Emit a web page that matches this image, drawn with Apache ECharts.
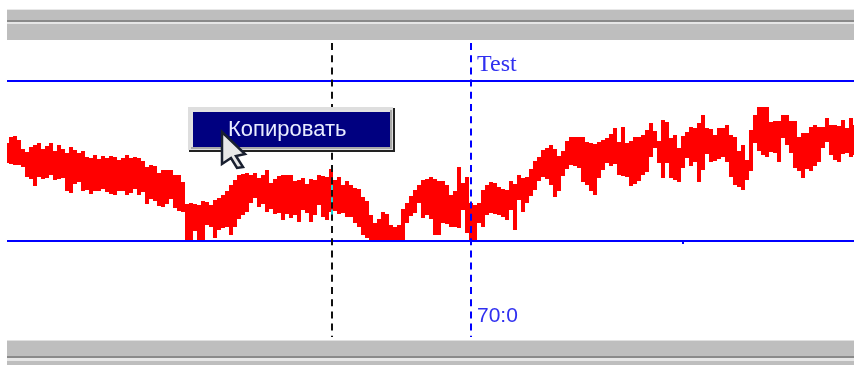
<!DOCTYPE html>
<html><head><meta charset="utf-8">
<style>html,body{margin:0;padding:0;background:#fff}#c{width:854px;height:365px}</style>
<script src="https://cdn.jsdelivr.net/npm/echarts@6/dist/echarts.min.js"></script>
</head><body><div id="c"></div>
<script>
// signal envelope, one sample per index, blue limit lines at 0 and 160
const upper = [
98,104,105,101,92,89,94,96,98,92,
95,98,90,96,92,88,94,91,88,90,
84,83,86,82,85,83,85,84,81,83,
86,83,84,83,80,74,76,75,68,71,
71,71,66,66,59,37,38,37,36,40,
39,36,41,43,46,50,56,61,66,67,
68,66,68,63,66,71,58,62,65,66,
66,66,60,61,63,57,62,61,66,65,
64,72,61,64,56,60,56,53,52,44,
40,26,18,22,29,27,16,14,16,32,
38,45,51,56,61,62,64,62,60,60,
56,46,50,74,58,64,38,36,38,51,
56,59,58,54,52,51,60,57,66,63,
64,72,80,84,91,93,96,92,85,90,
100,104,104,104,104,99,98,97,99,101,
103,107,113,99,114,98,100,104,104,106,
111,118,110,100,121,119,103,106,93,105,
109,114,113,118,126,113,112,106,113,113,
116,106,104,90,96,81,111,126,134,134,
134,119,120,120,126,126,120,120,104,108,
108,114,116,114,114,123,116,116,115,121,
113,123,116];
const lower = [
78,77,76,76,74,64,62,55,64,62,
63,66,61,62,63,50,48,57,59,50,
51,47,50,50,52,49,47,46,50,50,
46,48,52,46,49,37,42,40,35,34,
37,42,33,30,29,1,0,10,1,0,
16,14,3,11,13,14,6,14,22,26,
29,38,43,34,37,29,32,27,28,21,
27,23,26,19,31,28,19,26,36,24,
21,29,30,27,28,24,24,18,14,6,
3,0,0,0,0,0,0,0,0,0,
18,25,28,38,23,26,22,6,6,18,
17,14,14,13,31,8,1,1,18,14,
26,28,27,26,24,21,31,11,41,29,
38,45,51,60,64,62,56,44,50,65,
72,76,75,73,59,56,50,46,63,71,
78,75,77,66,65,64,55,57,60,66,
69,84,93,78,63,78,63,61,59,73,
83,75,79,59,71,87,79,80,82,84,
79,64,56,54,51,61,70,98,90,86,
84,89,88,79,103,96,88,73,70,63,
72,70,75,79,93,99,86,81,79,87,
88,84,86];
const sampleIndex = upper.map((_, i) => i);
const limitLines = [0, 160];
const cursorMarks = { black: 81.25, blue: 115.85 };
const cursorInverted = [24, 56];
const labels = { test: 'Test', time: '70:0', button: 'Копировать' };

const chart = echarts.init(document.getElementById('c'), null, { renderer: 'canvas' });
const rect = (x, y, w, h, fill, z) => ({ type: 'rect', shape: { x, y, width: w, height: h }, style: { fill }, z: z || 50, silent: true });
const vDash = [7, 5.2];
chart.setOption({
  animation: false,
  backgroundColor: '#fff',
  grid: { left: 7, width: 847, top: 40, height: 300 },
  xAxis: { type: 'value', min: 0, max: 211.75, show: false },
  yAxis: { type: 'value', min: -99, max: 201, show: false },
  series: [
    { type: 'custom', silent: true, z: 2, clip: true,
      encode: { x: 0, y: [1, 2] },
      data: sampleIndex.map(i => [i, lower[i], upper[i]]),
      renderItem(params, api) {
        const a = api.coord([api.value(0) - 0.5, api.value(2)]);
        const b = api.coord([api.value(0) + 0.5, api.value(1)]);
        return { type: 'rect', shape: { x: a[0], y: a[1], width: b[0] - a[0], height: b[1] - a[1] },
          style: { fill: '#ff0000' } };
      } },
    { type: 'line', data: [], z: 3, silent: true, symbol: 'none',
      markLine: { silent: true, symbol: 'none', animation: false, label: { show: false },
        data: [
          ...limitLines.map(v => ({ yAxis: v, lineStyle: { color: '#0000ff', width: 2, type: 'solid' } })),
          [{ coord: [cursorMarks.black, 198], lineStyle: { color: '#111', width: 2, type: vDash } }, { coord: [cursorMarks.black, -96] }],
          [{ coord: [cursorMarks.black, cursorInverted[1]], lineStyle: { color: '#18d8d8', width: 2, type: [5, 7.2] } }, { coord: [cursorMarks.black, cursorInverted[0]] }],
          [{ coord: [cursorMarks.blue, 198], lineStyle: { color: '#0000ff', width: 2, type: vDash } }, { coord: [cursorMarks.blue, -96] }]
        ] } }
  ],
  graphic: { elements: [
    rect(7, 9, 847, 1, '#e8e8e8'),
    rect(7, 10, 847, 10, '#bebebe'),
    rect(7, 20, 847, 2, '#8a8a8a'),
    rect(7, 22, 847, 2, '#e6e6e6'),
    rect(7, 24, 847, 16, '#bebebe'),
    rect(7, 340, 847, 1, '#e0e0e0'),
    rect(7, 341, 847, 15, '#bebebe'),
    rect(7, 356, 847, 2, '#8a8a8a'),
    rect(7, 358, 847, 3, '#e6e6e6'),
    rect(7, 361, 847, 4, '#bebebe'),
    rect(682, 242, 2, 2, '#0000ff'),
    rect(189, 108, 206, 44, '#222222', 60),
    rect(188, 107, 205, 43, '#dedede', 61),
    rect(191, 110, 201, 39, '#a8a8a8', 62),
    rect(191, 110, 199, 37, '#e2e2e2', 63),
    rect(193, 112, 197, 35, '#000080', 64),
    { type: 'text', z: 65, silent: true, style: { x: 228, y: 130, text: labels.button, fill: '#e8ecff',
      font: '22px "Liberation Sans", Arial, sans-serif', verticalAlign: 'middle' } },
    { type: 'polygon', z: 70, silent: true, shape: { points: [[222,132],[245,154],[236,156],[243,167],[237,168],[231,158],[222,164]] },
      style: { fill: '#e8e8e8', stroke: '#1a2030', lineWidth: 2.5 } },
    { type: 'text', z: 55, silent: true, style: { x: 477, y: 65, text: labels.test, fill: '#3030f0',
      font: '24px "Liberation Serif", serif', verticalAlign: 'middle' } },
    { type: 'text', z: 55, silent: true, style: { x: 477, y: 316, text: labels.time, fill: '#3030f0',
      font: '21px "Liberation Sans", Arial, sans-serif', verticalAlign: 'middle' } }
  ] }
});
</script></body></html>
